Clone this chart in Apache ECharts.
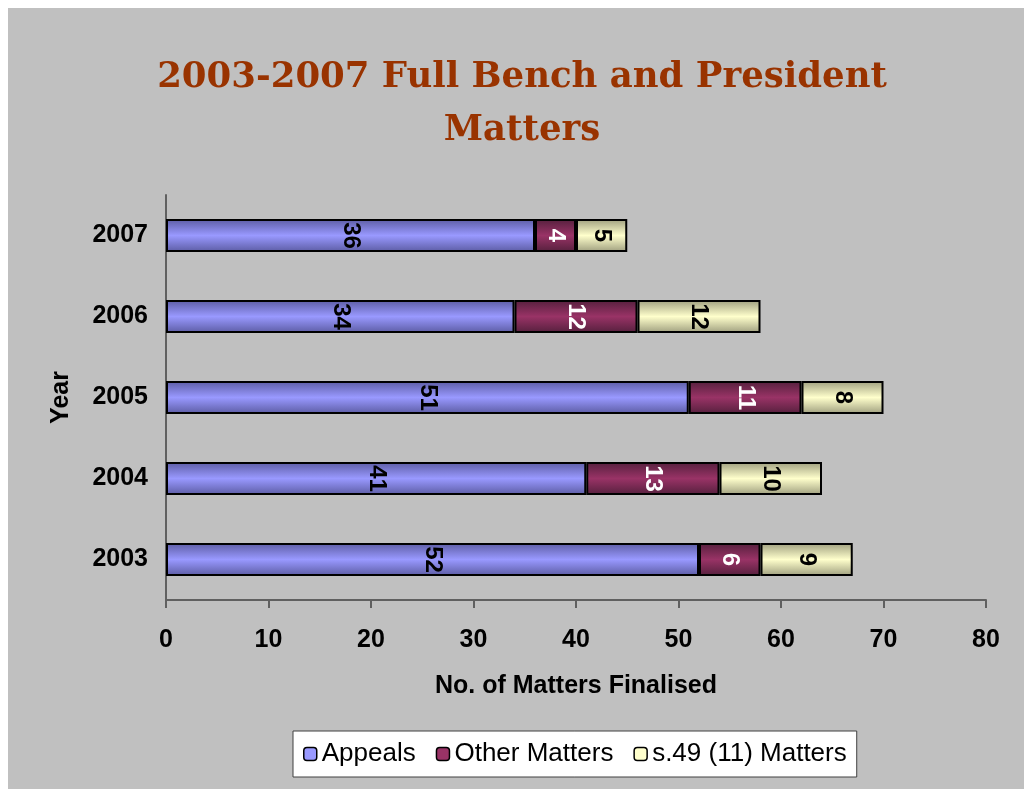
<!DOCTYPE html>
<html>
<head>
<meta charset="utf-8">
<script src="https://cdn.jsdelivr.net/npm/echarts@6/dist/echarts.min.js"></script>
<style>
  html, body { margin: 0; padding: 0; background: #ffffff; }
  #chart { position: absolute; left: 8px; top: 8px; width: 1016px; height: 781px; background: #C0C0C0; }
</style>
</head>
<body>
<div id="chart"></div>
<script>
// Full Bench and President matters finalised per year
const years = ['2003', '2004', '2005', '2006', '2007'];
const appeals = [52, 41, 51, 34, 36];
const otherMatters = [6, 13, 11, 12, 4];
const s49Matters = [9, 10, 8, 12, 5];
const xTicks = [0, 10, 20, 30, 40, 50, 60, 70, 80];

const FONT = 'Liberation Sans, Arial, sans-serif';

function shade(edge, mid) {
  return new echarts.graphic.LinearGradient(0, 0, 0, 1, [
    { offset: 0, color: edge },
    { offset: 0.5, color: mid },
    { offset: 1, color: edge }
  ]);
}

function labelStyle(color) {
  return {
    show: true,
    position: 'inside',
    rotate: -90,
    color: color,
    fontFamily: FONT,
    fontWeight: 'bold',
    fontSize: 24
  };
}

const chart = echarts.init(document.getElementById('chart'));
chart.setOption({
  animation: false,
  backgroundColor: '#C0C0C0',
  title: {
    text: '2003-2007 Full Bench and President\nMatters',
    left: 509,
    textAlign: 'center',
    top: 38,
    textStyle: {
      fontFamily: 'DejaVu Serif, serif',
      fontWeight: 'bold',
      fontSize: 35.5,
      lineHeight: 53,
      color: '#993300'
    }
  },
  legend: {
    left: 285,
    top: 723,
    backgroundColor: '#ffffff',
    borderColor: '#404040',
    borderWidth: 1,
    padding: [10, 10, 10, 10],
    itemGap: 20,
    itemWidth: 13,
    itemHeight: 13,
    textStyle: {
      fontFamily: FONT,
      fontSize: 26,
      color: '#000000'
    },
    data: [
      { name: 'Appeals', itemStyle: { color: '#9999FF', borderColor: '#000', borderWidth: 1.5 } },
      { name: 'Other Matters', itemStyle: { color: '#993366', borderColor: '#000', borderWidth: 1.5 } },
      { name: 's.49 (11) Matters', itemStyle: { color: '#FFFFCC', borderColor: '#000', borderWidth: 1.5 } }
    ]
  },
  grid: { left: 158, right: 38, top: 187, bottom: 189, containLabel: false },
  xAxis: {
    type: 'value',
    min: xTicks[0],
    max: xTicks[xTicks.length - 1],
    interval: 10,
    name: 'No. of Matters Finalised',
    nameLocation: 'middle',
    nameGap: 74,
    nameTextStyle: {
      fontFamily: FONT,
      fontWeight: 'bold',
      fontSize: 25,
      color: '#000'
    },
    axisLine: { show: true, lineStyle: { color: '#606060', width: 2 } },
    axisTick: { show: true, length: 8, lineStyle: { color: '#606060', width: 2 } },
    axisLabel: {
      margin: 28,
      fontFamily: FONT,
      fontWeight: 'bold',
      fontSize: 25,
      color: '#000'
    },
    splitLine: { show: false }
  },
  yAxis: {
    type: 'category',
    data: years,
    name: 'Year',
    nameLocation: 'middle',
    nameGap: 92,
    nameRotate: 90,
    nameTextStyle: {
      fontFamily: FONT,
      fontWeight: 'bold',
      fontSize: 25,
      color: '#000'
    },
    axisLine: { show: true, lineStyle: { color: '#606060', width: 2 } },
    axisTick: { show: false },
    axisLabel: {
      margin: 18,
      fontFamily: FONT,
      fontWeight: 'bold',
      fontSize: 25,
      color: '#000'
    }
  },
  series: [
    {
      name: 'Appeals',
      type: 'bar',
      stack: 'total',
      barWidth: 33,
      data: appeals,
      itemStyle: { color: shade('#5C5CA3', '#9999FF'), borderColor: '#000', borderWidth: 2 },
      label: labelStyle('#000')
    },
    {
      name: 'Other Matters',
      type: 'bar',
      stack: 'total',
      data: otherMatters,
      itemStyle: { color: shade('#55203D', '#993366'), borderColor: '#000', borderWidth: 2 },
      label: labelStyle('#fff')
    },
    {
      name: 's.49 (11) Matters',
      type: 'bar',
      stack: 'total',
      data: s49Matters,
      itemStyle: { color: shade('#9E9E7E', '#FFFFCC'), borderColor: '#000', borderWidth: 2 },
      label: labelStyle('#000')
    }
  ]
});
</script>
</body>
</html>
